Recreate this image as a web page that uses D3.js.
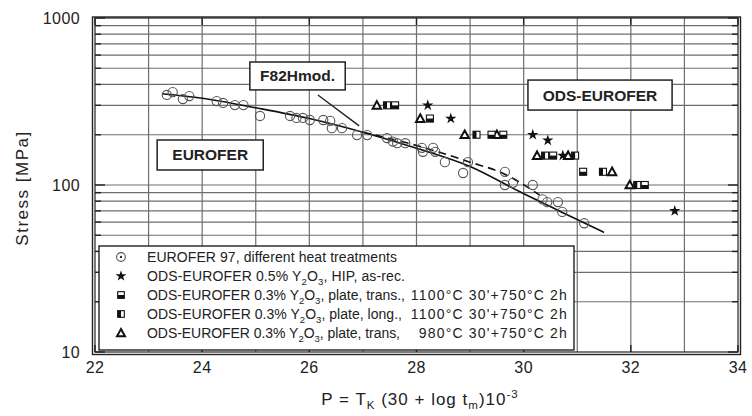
<!DOCTYPE html>
<html><head><meta charset="utf-8">
<script src="https://cdn.jsdelivr.net/npm/d3@7"></script>
<style>body{margin:0;background:#fff} svg{display:block} text{font-family:"Liberation Sans",Arial,Helvetica,sans-serif;fill:#222}</style>
</head><body><svg id="c" width="752" height="416"></svg>
<script>
// ---- data (P parameter, stress MPa) ----
const eurofer = [[23.34,346],[23.45,360],[23.64,327],[23.76,341],[24.27,318],[24.39,310],[24.61,301],[24.77,301],[25.08,259],[25.64,259],[25.76,252],[25.88,252],[26.01,245],[26.26,245],[26.39,242],[26.42,219],[26.61,219],[26.89,199],[27.08,199],[27.45,191],[27.56,182],[27.64,178],[27.79,178],[28.10,167],[28.12,158],[28.31,167],[28.35,158],[28.53,137],[28.87,118],[28.96,137],[29.65,120],[29.65,100],[29.80,103],[30.17,100],[30.35,82],[30.44,79],[30.64,79],[30.72,69],[31.13,59]];
const odsHip = [[28.21,300],[28.64,250],[30.17,200],[30.45,185],[30.73,150],[32.82,70]];
const odsTrans1100 = [[27.60,300],[28.25,250],[29.40,200],[29.62,200],[30.55,150],[31.11,120],[32.26,100]];
const odsLong1100 = [[27.45,300],[29.12,200],[30.40,150],[30.96,150],[31.48,120],[32.12,100]];
const odsTrans980 = [[27.26,300],[28.07,250],[28.90,200],[29.50,200],[30.25,150],[30.83,150],[31.65,120],[31.98,100]];
const fitEurofer = [[23.25,352],[24,331],[25,290],[26,250],[27,207],[28,166],[29,129],[29.93,91],[30.87,65],[31.5,52]];
const fitF82H = [[27.0,207],[27.5,190],[28.07,170],[29.0,137],[29.6,118],[30.3,87]];
const xTickValues = [22,24,26,28,30,32,34];
const yTickValues = [10,100,1000];
const yMinorValues = [20,30,40,50,60,70,80,90,200,300,400,500,600,700,800,900];
const xGridValues = [23,24,25,26,27,28,29,30,31,32,33];
const legendMain = ["EUROFER 97, different heat treatments","ODS-EUROFER 0.5% Y","ODS-EUROFER 0.3% Y","ODS-EUROFER 0.3% Y","ODS-EUROFER 0.3% Y"];
const legendTail = ["", ", HIP, as-rec.", ", plate, trans.,", ", plate, long.,", ", plate, trans,"];
const legendHeat = ["", "", "1100°C 30'+750°C 2h", "1100°C 30'+750°C 2h", "980°C 30'+750°C 2h"];
const legendSymbols = ["circle","star","sqBottom","sqLeft","triangle"];
// annotation boxes in data coords [P0,P1], [S_top,S_bottom]
const boxF82H = {label:"F82Hmod.", p:[24.89,26.67], s:[545,371]};
const boxEurofer = {label:"EUROFER", p:[23.16,25.14], s:[186,123]};
const boxODS = {label:"ODS-EUROFER", p:[30.08,32.77], s:[425,281]};
const leader = [[26.16,346],[26.93,226]];

const svg = d3.select("#c");
const L=95, R=738, T=18, B=352;
const x = d3.scaleLinear().domain([22,34]).range([L,R]);
const y = d3.scaleLog().domain([10,1000]).range([B,T]);

// grid
const g = svg.append("g");
g.selectAll(".vg").data(xGridValues).join("line")
  .attr("x1",d=>x(d)).attr("x2",d=>x(d)).attr("y1",T).attr("y2",B)
  .attr("stroke","#6e6e6e").attr("stroke-width",1.2);
g.selectAll(".hg").data(yMinorValues.concat([100])).join("line")
  .attr("x1",L).attr("x2",R).attr("y1",d=>y(d)).attr("y2",d=>y(d))
  .attr("stroke","#6e6e6e").attr("stroke-width",1.2);

// ticks inward
const tk = svg.append("g").attr("stroke","#222").attr("stroke-width",1.4);
xTickValues.forEach(v=>{
  tk.append("line").attr("x1",x(v)).attr("x2",x(v)).attr("y1",T).attr("y2",T+7);
  tk.append("line").attr("x1",x(v)).attr("x2",x(v)).attr("y1",B).attr("y2",B-7);
});
yMinorValues.concat(yTickValues).forEach(v=>{
  const len = yTickValues.includes(v)?10:6;
  tk.append("line").attr("x1",L).attr("x2",L+len).attr("y1",y(v)).attr("y2",y(v));
  tk.append("line").attr("x1",R).attr("x2",R-len).attr("y1",y(v)).attr("y2",y(v));
});

// fit lines
const line = d3.line().x(d=>x(d[0])).y(d=>y(d[1])).curve(d3.curveMonotoneX);
svg.append("path").attr("d",line(fitEurofer)).attr("fill","none").attr("stroke","#111").attr("stroke-width",1.6);
svg.append("path").attr("d",line(fitF82H)).attr("fill","none").attr("stroke","#111").attr("stroke-width",1.6).attr("stroke-dasharray","8,5");

// symbols
function drawSym(sel, type, cx, cy, s){
  if(type==="circle"){
    sel.append("circle").attr("cx",cx).attr("cy",cy).attr("r",4.6*s).attr("fill","none").attr("stroke","#555").attr("stroke-width",1.1);
  } else if(type==="star"){
    sel.append("path").attr("d",d3.symbol(d3.symbolStar, 40*s*s)()).attr("transform",`translate(${cx},${cy})`).attr("fill","#111");
  } else if(type==="sqBottom"){
    const h=3.5*s;
    sel.append("rect").attr("x",cx-h).attr("y",cy-h).attr("width",2*h).attr("height",2*h).attr("fill","#fff").attr("stroke","#111").attr("stroke-width",1.1);
    sel.append("rect").attr("x",cx-h).attr("y",cy).attr("width",2*h).attr("height",h).attr("fill","#111");
  } else if(type==="sqLeft"){
    const h=3.5*s;
    sel.append("rect").attr("x",cx-h).attr("y",cy-h).attr("width",2*h).attr("height",2*h).attr("fill","#fff").attr("stroke","#111").attr("stroke-width",1.1);
    sel.append("rect").attr("x",cx-h).attr("y",cy-h).attr("width",h).attr("height",2*h).attr("fill","#111");
  } else if(type==="triangle"){
    const h=4.2*s;
    sel.append("path").attr("d",`M${cx},${cy-h}L${cx+h},${cy+h*0.8}L${cx-h},${cy+h*0.8}Z`).attr("fill","#fff").attr("stroke","#111").attr("stroke-width",2);
  }
}
const pts = svg.append("g");
eurofer.forEach(d=>drawSym(pts,"circle",x(d[0]),y(d[1]),1));
odsTrans980.forEach(d=>drawSym(pts,"triangle",x(d[0]),y(d[1]),1));
odsLong1100.forEach(d=>drawSym(pts,"sqLeft",x(d[0]),y(d[1]),1));
odsTrans1100.forEach(d=>drawSym(pts,"sqBottom",x(d[0]),y(d[1]),1));
odsHip.forEach(d=>drawSym(pts,"star",x(d[0]),y(d[1]),1));

// annotation boxes
[boxF82H,boxEurofer,boxODS].forEach(b=>{
  const x0=x(b.p[0]), x1=x(b.p[1]), y0=y(b.s[0]), y1=y(b.s[1]);
  svg.append("rect").attr("x",x0).attr("y",y0).attr("width",x1-x0).attr("height",y1-y0).attr("fill","#fff").attr("stroke","#222").attr("stroke-width",1.5);
  svg.append("text").attr("x",(x0+x1)/2).attr("y",(y0+y1)/2+5.5).attr("text-anchor","middle").attr("font-size",15.5).attr("font-weight","bold").text(b.label);
});
svg.append("line").attr("x1",x(leader[0][0])).attr("y1",y(leader[0][1])).attr("x2",x(leader[1][0])).attr("y2",y(leader[1][1])).attr("stroke","#222").attr("stroke-width",1.4);

// fit a text element's width to a target by letter-spacing
function fitWidth(node, target){
  const w = node.getBBox().width;
  const n = node.textContent.length;
  if(n>1) node.setAttribute("letter-spacing", ((target - w)/(n-1)).toFixed(3));
}

// legend
const mainEnds = [397,405,405,402,400];
const heatStarts = [0,0,412,412,420];
const lg = svg.append("g");
lg.append("rect").attr("x",99).attr("y",246).attr("width",475).attr("height",104).attr("fill","#fff").attr("stroke","#222").attr("stroke-width",1.4);
legendMain.forEach((t,i)=>{
  const cy = 257 + i*19;
  drawSym(lg, legendSymbols[i], 121, cy, 0.95);
  if(i===0) lg.append("circle").attr("cx",121).attr("cy",cy).attr("r",1.2).attr("fill","#333");
  const tx = lg.append("text").attr("x",147).attr("y",cy+5).attr("font-size",14);
  tx.append("tspan").text(t);
  if(i>0){
    tx.append("tspan").attr("font-size",9.5).attr("dy",4).text("2");
    tx.append("tspan").attr("dy",-4).text("O");
    tx.append("tspan").attr("font-size",9.5).attr("dy",4).text("3");
    tx.append("tspan").attr("dy",-4).text(legendTail[i]);
  }
  fitWidth(tx.node(), mainEnds[i]-147);
  if(legendHeat[i]){
    const ht = lg.append("text").attr("x",568).attr("y",cy+5).attr("font-size",14).attr("text-anchor","end").text(legendHeat[i]);
    fitWidth(ht.node(), 568-heatStarts[i]);
  }
});

// frame (double line)
svg.append("rect").attr("x",L).attr("y",T).attr("width",R-L).attr("height",B-T).attr("fill","none").attr("stroke","#222").attr("stroke-width",1.2);
svg.append("rect").attr("x",L-2.5).attr("y",T-1).attr("width",R-L+5).attr("height",B-T+3.5).attr("fill","none").attr("stroke","#222").attr("stroke-width",1.4);

// tick labels
svg.selectAll(".yl").data(yTickValues).join("text").attr("x",80).attr("y",d=>y(d)+5.5).attr("text-anchor","end").attr("font-size",16).attr("letter-spacing",0.4).text(d=>d);
svg.selectAll(".xl").data(xTickValues).join("text").attr("x",d=>x(d)).attr("y",373).attr("text-anchor","middle").attr("font-size",16).attr("letter-spacing",0.4).text(d=>d);

// axis titles
svg.append("text").attr("transform","translate(28,188) rotate(-90)").attr("text-anchor","middle").attr("font-size",17).attr("letter-spacing",1.5).text("Stress [MPa]");
const xt = svg.append("text").attr("x",420).attr("y",405).attr("text-anchor","middle").attr("font-size",17).attr("letter-spacing",1);
xt.append("tspan").text("P = T");
xt.append("tspan").attr("font-size",11.5).attr("dy",4).text("K");
xt.append("tspan").attr("dy",-4).text(" (30 + log t");
xt.append("tspan").attr("font-size",11.5).attr("dy",4).text("m");
xt.append("tspan").attr("dy",-4).text(")10");
xt.append("tspan").attr("font-size",11.5).attr("dy",-7).text("-3");
</script></body></html>
